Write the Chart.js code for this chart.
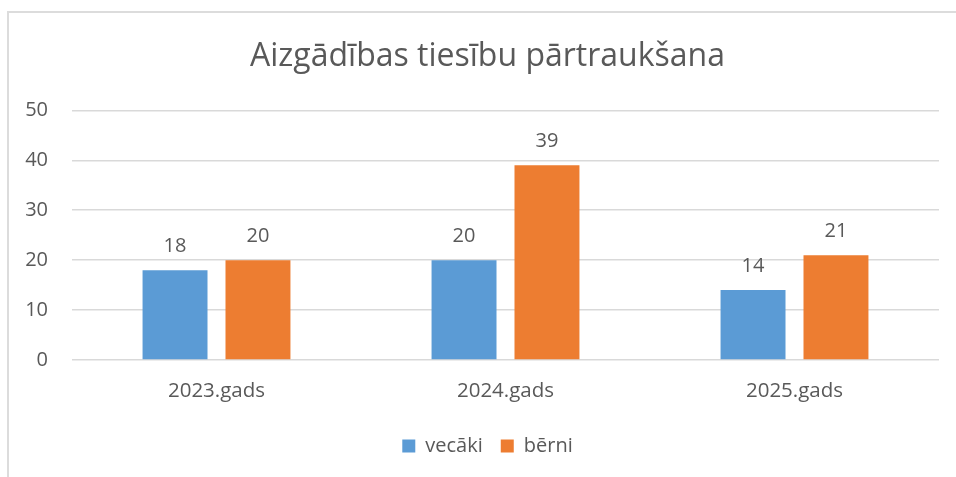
<!DOCTYPE html>
<html>
<head>
<meta charset="utf-8">
<script src="https://cdn.jsdelivr.net/npm/chart.js@4"></script>
<style>
  html, body { margin: 0; padding: 0; background: #fff; overflow: hidden; }
  #frame {
    position: absolute; left: 7px; top: 11px;
    border-left: 2px solid #dcdcdc; border-top: 2px solid #dcdcdc;
    width: 947px; height: 464px;
  }
  canvas { display: block; }
</style>
</head>
<body>
<div id="frame"><canvas id="chart" width="947" height="464"></canvas></div>
<script>
// Data
const categories = ["2023.gads", "2024.gads", "2025.gads"];
const seriesNames = ["vecāki", "bērni"];
const parentsValues = [18, 20, 14];
const childrenValues = [20, 39, 21];
const yMin = 0;
const yMax = 50;
const yStep = 10;

const textColor = "#595959";
const gridColor = "#d9d9d9";
const fontFamily = "'Open Sans', sans-serif";

// Value labels above each bar
const valueLabels = {
  id: "valueLabels",
  afterDatasetsDraw(chart) {
    const ctx = chart.ctx;
    ctx.save();
    ctx.fillStyle = textColor;
    ctx.font = "20px " + fontFamily;
    ctx.textAlign = "center";
    ctx.textBaseline = "middle";
    chart.data.datasets.forEach((ds, i) => {
      chart.getDatasetMeta(i).data.forEach((bar, j) => {
        ctx.fillText(String(ds.data[j]), bar.x, bar.y - 24);
      });
    });
    ctx.restore();
  },
};

// y labels are clipped to the axis box; let the box reach the canvas edge
const widenYAxis = {
  id: "widenYAxis",
  afterLayout(chart) {
    chart.scales.y.left = 0;
  },
};

new Chart(document.getElementById("chart"), {
  type: "bar",
  data: {
    labels: categories,
    datasets: [
      {
        label: seriesNames[0],
        data: parentsValues,
        backgroundColor: "#5b9bd5",
        categoryPercentage: 0.574,
        barPercentage: 0.783,
      },
      {
        label: seriesNames[1],
        data: childrenValues,
        backgroundColor: "#ed7d31",
        categoryPercentage: 0.574,
        barPercentage: 0.783,
      },
    ],
  },
  options: {
    responsive: false,
    animation: false,
    layout: { padding: { left: 27, right: 17, top: 0, bottom: 11 } },
    scales: {
      x: {
        grid: { display: false, drawTicks: false },
        border: { display: false },
        ticks: { color: textColor, font: { family: fontFamily, size: 20.5 }, padding: 19 },
        afterFit: (scale) => { scale.height = 58; },
      },
      y: {
        min: yMin,
        max: yMax,
        grid: { color: gridColor, lineWidth: 1.5, drawTicks: false },
        border: { display: false },
        ticks: {
          stepSize: yStep,
          color: textColor,
          font: { family: fontFamily, size: 20 },
          padding: 24,
        },
        afterFit: (scale) => { scale.width = 36; },
      },
    },
    plugins: {
      title: {
        display: true,
        text: "Aizgādības tiesību pārtraukšana",
        color: textColor,
        font: { family: fontFamily, size: 32, weight: "normal" },
        padding: { top: 25, bottom: 34 },
      },
      legend: {
        position: "bottom",
        labels: {
          color: textColor,
          font: { family: fontFamily, size: 20 },
          boxWidth: 13,
          boxHeight: 13,
          padding: 18,
        },
      },
      tooltip: { enabled: false },
    },
  },
  plugins: [valueLabels, widenYAxis],
});
</script>
</body>
</html>
